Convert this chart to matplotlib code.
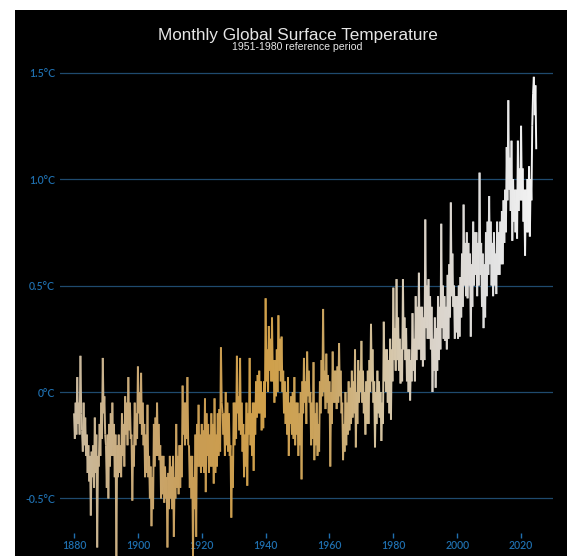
"""
Monthly global surface temperature anomaly, drawn as a time-coloured spike line on black
"""

import matplotlib.pyplot as plt
import numpy as np
from matplotlib.collections import LineCollection
from matplotlib.colors import LinearSegmentedColormap
from matplotlib.patches import Rectangle

# Anomaly (°C vs 1951-1980), four readings per year, one row per year from 1880
years = list(range(1880, 2025))
anomaly = [
    [-0.10, -0.22, -0.05, -0.20], [0.07, -0.15, -0.05, -0.20], [0.17, -0.10, -0.18, -0.28],
    [-0.05, -0.25, -0.12, -0.30], [-0.20, -0.38, -0.25, -0.42], [-0.30, -0.58, -0.28, -0.40],
    [-0.25, -0.45, -0.12, -0.38], [-0.20, -0.73, -0.30, -0.35], [-0.15, -0.30, -0.05, -0.22],
    [0.16, -0.10, -0.02, -0.20],
    # 1890s
    [-0.25, -0.45, -0.20, -0.50], [-0.15, -0.35, -0.10, -0.30], [-0.05, -0.30, -0.15, -0.40],
    [-0.20, -0.80, -0.25, -0.40], [-0.20, -0.38, -0.25, -0.40], [-0.10, -0.30, -0.15, -0.35],
    [-0.02, -0.20, -0.05, -0.25], [0.07, -0.18, -0.05, -0.22], [-0.20, -0.51, -0.25, -0.35],
    [-0.05, -0.25, -0.10, -0.22],
    # 1900s
    [0.12, -0.10, 0.00, -0.15], [0.09, -0.20, -0.05, -0.25], [-0.15, -0.40, -0.20, -0.38],
    [-0.06, -0.40, -0.30, -0.50], [-0.35, -0.63, -0.40, -0.55], [-0.15, -0.35, -0.12, -0.30],
    [-0.05, -0.30, -0.15, -0.32], [-0.25, -0.50, -0.30, -0.48], [-0.30, -0.52, -0.35, -0.50],
    [-0.40, -0.73, -0.38, -0.55],
    # 1910s
    [-0.30, -0.50, -0.35, -0.55], [-0.30, -0.68, -0.40, -0.50], [-0.15, -0.45, -0.30, -0.48],
    [-0.25, -0.45, -0.25, -0.40], [0.03, -0.20, -0.05, -0.25], [-0.05, -0.22, 0.07, -0.25],
    [-0.25, -0.45, -0.30, -0.50], [-0.30, -0.78, -0.40, -0.55], [-0.20, -0.68, -0.15, -0.35],
    [-0.06, -0.35, -0.20, -0.38],
    # 1920s
    [-0.15, -0.35, -0.18, -0.38], [-0.03, -0.47, -0.10, -0.30], [-0.15, -0.38, -0.20, -0.35],
    [-0.10, -0.35, -0.15, -0.43], [-0.03, -0.38, -0.20, -0.35], [-0.10, -0.30, -0.08, -0.28],
    [0.21, -0.05, -0.10, -0.20], [-0.10, -0.30, 0.00, -0.25], [-0.05, -0.28, -0.10, -0.30],
    [-0.25, -0.59, -0.30, -0.45],
    # 1930s
    [-0.05, -0.25, -0.05, -0.22], [0.17, -0.10, -0.02, -0.18], [0.16, -0.20, -0.05, -0.28],
    [-0.15, -0.40, -0.20, -0.35], [-0.05, -0.44, -0.10, -0.20], [0.16, -0.25, -0.10, -0.30],
    [-0.05, -0.37, -0.05, -0.20], [0.05, -0.12, 0.08, -0.10], [0.10, -0.10, 0.05, -0.18],
    [0.00, -0.17, 0.05, -0.12],
    # 1940s
    [0.44, 0.05, 0.20, 0.00], [0.31, 0.10, 0.25, 0.05], [0.35, 0.05, 0.15, -0.05],
    [0.15, -0.02, 0.20, 0.00], [0.36, 0.10, 0.25, 0.05], [0.26, 0.00, 0.10, -0.10],
    [0.05, -0.15, 0.00, -0.20], [0.07, -0.30, -0.05, -0.15], [-0.02, -0.20, 0.00, -0.22],
    [0.07, -0.25, -0.05, -0.20],
    # 1950s
    [-0.05, -0.30, -0.10, -0.25], [0.00, -0.41, 0.05, -0.10], [0.16, -0.05, 0.05, -0.15],
    [0.19, -0.02, 0.10, -0.05], [0.00, -0.25, -0.05, -0.22], [0.14, -0.32, -0.10, -0.25],
    [-0.05, -0.30, -0.15, -0.28], [0.05, -0.10, 0.15, -0.02], [0.39, 0.00, 0.10, -0.08],
    [0.18, -0.05, 0.08, -0.10],
    # 1960s
    [0.05, -0.35, 0.00, -0.15], [0.19, -0.05, 0.10, -0.05], [0.10, -0.08, 0.12, -0.05],
    [0.23, -0.02, 0.10, -0.10], [-0.05, -0.32, -0.15, -0.28], [0.00, -0.25, -0.05, -0.20],
    [0.05, -0.18, 0.02, -0.15], [0.10, -0.12, 0.05, -0.10], [0.20, -0.26, 0.00, -0.15],
    [0.15, -0.05, 0.10, 0.00],
    # 1970s
    [0.24, -0.05, 0.10, -0.10], [0.00, -0.20, 0.05, -0.15], [0.10, -0.15, 0.15, 0.00],
    [0.32, 0.05, 0.20, -0.05], [0.05, -0.26, 0.00, -0.15], [0.10, -0.10, 0.05, -0.12],
    [0.00, -0.23, -0.05, -0.15], [0.33, 0.05, 0.20, 0.00], [0.20, -0.05, 0.15, -0.10],
    [0.25, -0.13, 0.20, 0.05],
    # 1980s
    [0.49, 0.15, 0.30, 0.10], [0.53, 0.15, 0.35, 0.10], [0.25, 0.04, 0.20, 0.05],
    [0.53, 0.20, 0.35, 0.15], [0.30, 0.05, 0.20, 0.00], [0.20, -0.04, 0.15, 0.05],
    [0.37, 0.10, 0.25, 0.05], [0.45, 0.15, 0.40, 0.20], [0.56, 0.20, 0.40, 0.15],
    [0.40, 0.12, 0.35, 0.15],
    # 1990s
    [0.81, 0.30, 0.50, 0.25], [0.53, 0.25, 0.45, 0.20], [0.40, 0.00, 0.25, 0.10],
    [0.35, 0.02, 0.30, 0.10], [0.45, 0.15, 0.40, 0.20], [0.79, 0.30, 0.50, 0.25],
    [0.45, 0.24, 0.40, 0.20], [0.55, 0.25, 0.60, 0.35], [0.89, 0.45, 0.65, 0.40],
    [0.50, 0.25, 0.45, 0.28],
    # 2000s
    [0.45, 0.25, 0.50, 0.26], [0.54, 0.35, 0.65, 0.40], [0.88, 0.50, 0.70, 0.45],
    [0.75, 0.44, 0.70, 0.50], [0.65, 0.26, 0.60, 0.40], [0.80, 0.50, 0.75, 0.55],
    [0.75, 0.45, 0.70, 0.50], [1.03, 0.55, 0.70, 0.40], [0.65, 0.30, 0.60, 0.35],
    [0.75, 0.45, 0.80, 0.55],
    # 2010s
    [0.92, 0.60, 0.80, 0.50], [0.70, 0.45, 0.75, 0.50], [0.65, 0.46, 0.80, 0.55],
    [0.75, 0.55, 0.80, 0.60], [0.85, 0.60, 0.90, 0.70], [0.95, 0.75, 1.15, 0.90],
    [1.37, 0.95, 1.10, 0.85], [1.18, 0.71, 1.00, 0.80], [0.95, 0.75, 0.95, 0.72],
    [1.18, 0.85, 1.05, 0.90],
    # 2020s
    [1.25, 0.90, 1.05, 0.80], [0.95, 0.64, 0.95, 0.75], [1.00, 0.75, 1.06, 0.73],
    [1.00, 0.90, 1.25, 1.40], [1.48, 1.30, 1.44, 1.14],
]

y_ticks = [-0.5, 0, 0.5, 1.0, 1.5]
y_tick_labels = ["-0.5°C", "0°C", "0.5°C", "1.0°C", "1.5°C"]
x_ticks = [1880, 1900, 1920, 1940, 1960, 1980, 2000, 2020]

# Colour of the line drifts from pale beige through gold to near white over time
color_years = [1880, 1900, 1920, 1940, 1960, 1975, 1990, 2010, 2025]
color_stops = ["#cbbba0", "#c9a874", "#c99c52", "#d0a04a", "#c9a462",
               "#d4c29e", "#d9d1c6", "#e0e0e0", "#f4f4f4"]

tick_blue = "#1f6fae"
grid_blue = "#1f4a6e"

# Flatten the yearly rows into one time series
t = (np.array(years)[:, None] + np.array([0, 0.25, 0.5, 0.75])[None, :]).ravel()
v = np.array(anomaly).ravel()

fig = plt.figure(figsize=(5.79, 5.56), dpi=100)
fig.patch.set_facecolor("white")
fig.patches.append(Rectangle((15 / 579, 0), 552 / 579, 546 / 556,
                             transform=fig.transFigure, facecolor="black", zorder=-10))

ax = fig.add_axes([60 / 579, 0, 493 / 579, 496 / 556])
ax.set_facecolor("none")
ax.set_xlim(1875.6, 2030.0)
ax.set_ylim(-0.770, 1.559)
for s in ax.spines.values():
    s.set_visible(False)

# Horizontal gridlines and y labels
ax.set_yticks(y_ticks)
ax.set_yticklabels(y_tick_labels, fontfamily="Lato", fontsize=7.6, color=tick_blue,
                   fontweight="semibold")
ax.tick_params(axis="y", length=0, pad=3.5)
ax.grid(axis="y", color=grid_blue, linewidth=0.9)
ax.set_axisbelow(True)
ax.set_xticks([])

# Year labels sit inside the plot, just above the bottom edge
xt = ax.get_xaxis_transform()
ax.vlines(x_ticks, 0.036, 0.047, transform=xt, color=tick_blue, linewidth=1.0)
for yr in x_ticks:
    ax.text(yr, 0.021, str(yr), transform=xt, ha="center", va="center",
            fontfamily="Lato", fontsize=7.6, color=tick_blue, fontweight="semibold")

# Temperature line, segment colours following time
cmap = LinearSegmentedColormap.from_list(
    "warm", list(zip((np.array(color_years) - 1880) / (2025 - 1880), color_stops)))
points = np.column_stack([t, v]).reshape(-1, 1, 2)
segments = np.concatenate([points[:-1], points[1:]], axis=1)
lc = LineCollection(segments, cmap=cmap, linewidth=1.4, zorder=3)
lc.set_array(t[:-1])
lc.set_clim(1880, 2025)
ax.add_collection(lc)

fig.text(0.514, 0.937, "Monthly Global Surface Temperature", ha="center", va="center",
         fontfamily="Liberation Sans", fontsize=12.3, color="#e6e6e6")
fig.text(0.514, 0.9155, "1951-1980 reference period", ha="center", va="center",
         fontfamily="Liberation Sans", fontsize=7.6, color="#e6e6e6")

fig.savefig("out.png", dpi=100)
